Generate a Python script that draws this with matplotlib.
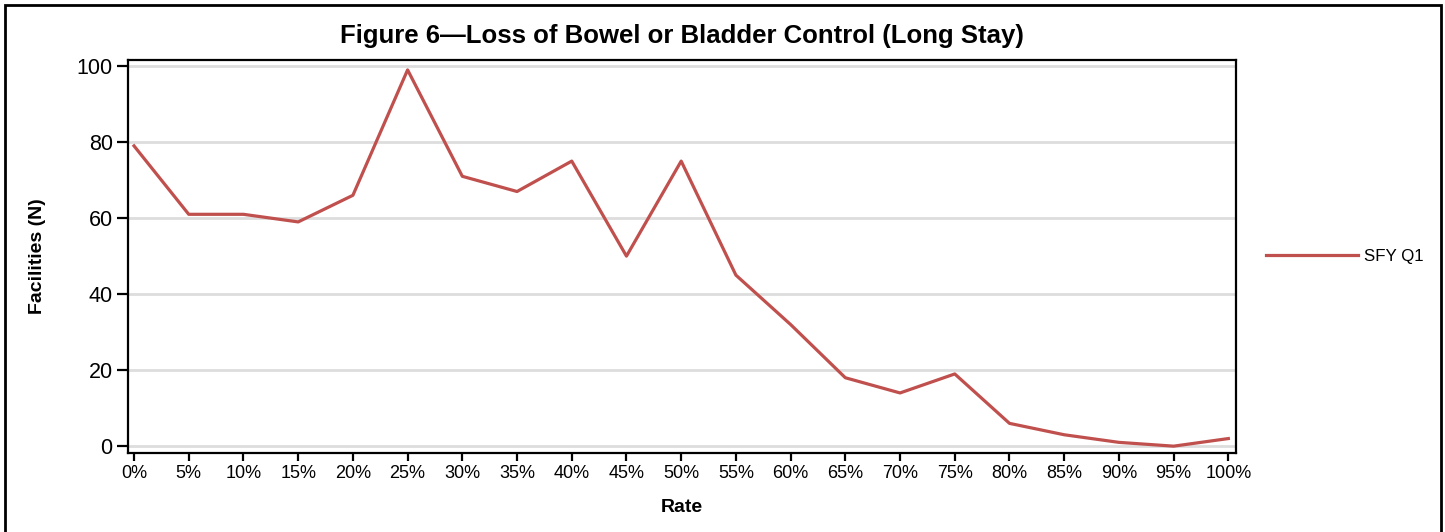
import matplotlib.pyplot as plt
import matplotlib.patches as mpatches

plt.rcParams.update({
    "font.family": ["Liberation Sans", "DejaVu Sans"],
})

# ── Data ──────────────────────────────────────────────────────────────────────
rates = [0, 5, 10, 15, 20, 25, 30, 35, 40, 45, 50, 55, 60, 65, 70, 75, 80, 85, 90, 95, 100]
facilities = [79, 61, 61, 59, 66, 99, 71, 67, 75, 50, 75, 45, 32, 18, 14, 19, 6, 3, 1, 0, 2]
series_name = "SFY Q1"
yticks = [0, 20, 40, 60, 80, 100]
xtick_labels = [f"{r}%" for r in rates]

fig = plt.figure(figsize=(14.45, 5.32), dpi=100)
ax = fig.add_axes([128 / 1445, 1 - 453 / 532, (1236 - 128) / 1445, (453 - 60) / 532])

ax.plot(rates, facilities, color="#c0504d", linewidth=2.3, label=series_name, zorder=3)

ax.set_xlim(-0.55, 100.7)
ax.set_ylim(-1.8, 101.6)
ax.set_xticks(rates)
ax.set_xticklabels(xtick_labels, fontsize=13)
ax.set_yticks(yticks)
ax.set_yticklabels([str(v) for v in yticks], fontsize=15.5)
ax.yaxis.grid(True, color="#dddddd", linewidth=2)
ax.set_axisbelow(True)
for s in ax.spines.values():
    s.set_linewidth(1.6)
ax.tick_params(axis="y", length=8, width=1.6, pad=3)
ax.tick_params(axis="x", length=6, width=1.6, pad=3)

ax.set_title("Figure 6\u2014Loss of Bowel or Bladder Control (Long Stay)",
             fontsize=18.5, fontweight="bold", pad=12)
ax.set_ylabel("Facilities (N)", fontsize=14, fontweight="bold", labelpad=22)
ax.set_xlabel("Rate", fontsize=14, fontweight="bold", labelpad=12)

ax.legend(loc="center left", bbox_to_anchor=(1.0135, 0.5), frameon=False,
          fontsize=12.2, handlelength=5.4, handletextpad=0.4)

# outer frame (bottom edge runs off the image)
fig.patches.append(mpatches.Rectangle((5 / 1445, -0.05), (1441 - 5) / 1445, 1.05 - 5 / 532,
                                      transform=fig.transFigure, fill=False,
                                      edgecolor="black", linewidth=2))

plt.savefig("out.png", dpi=100)
